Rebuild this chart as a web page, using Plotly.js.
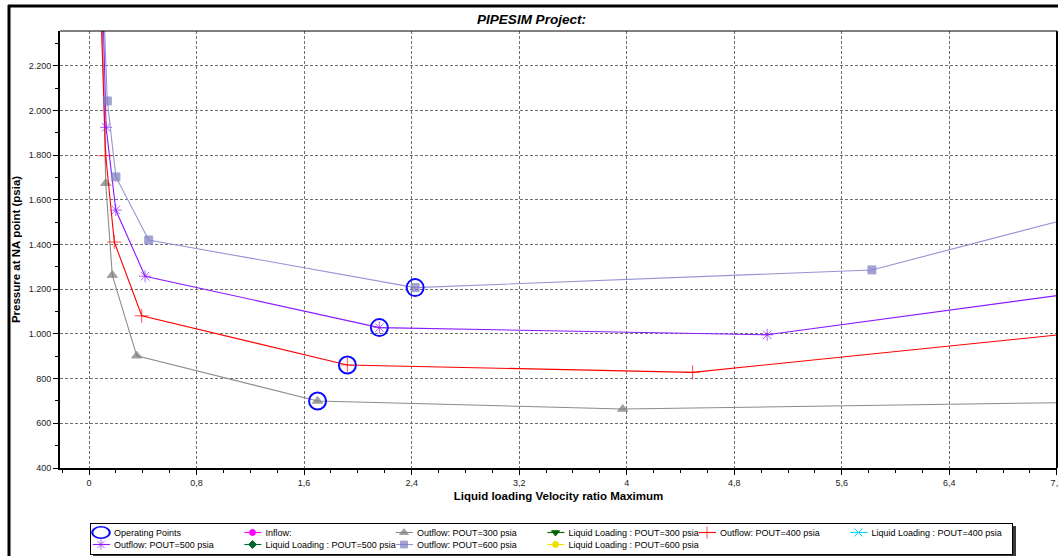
<!DOCTYPE html>
<html>
<head>
<meta charset="utf-8">
<script src="https://cdn.plot.ly/plotly-3.0.1.min.js"></script>
<style>
  html, body { margin: 0; padding: 0; background: #fff; }
  #chart { width: 1063px; height: 556px; }
  /* compact legend entries: short sample line, text close to the symbol, tight rows */
  #chart .legend .legendlines path { transform: translate(-1px, 0) scaleX(0.57); }
  #chart .legend .legendsymbols { transform: translate(-10px, 0); }
  #chart .legend .traces:first-child .legendsymbols { transform: translate(-12px, 0) scale(1.1, 0.72); }
  #chart .legend .traces:nth-child(-n+6) .legendtext { transform: translate(-17px, -6px); }
  #chart .legend .traces:nth-child(-n+6) .layers { transform: translate(0, -6px); }
  #chart .legend .traces:nth-child(n+7) .legendtext { transform: translate(-17px, -13px); }
  #chart .legend .traces:nth-child(n+7) .layers { transform: translate(0, -13px); }
  #chart .legend .bg { width: 922px; height: 31px; filter: drop-shadow(3px 3px 0 #3a3a3a); }
  #chart clipPath[id*="legend"] rect { width: 930px; }
</style>
</head>
<body>
<div id="chart"></div>
<script>
// Outflow curves: liquid loading velocity ratio (x) against pressure at the NA point (psia, y).
// The first point of each curve lies above the visible pressure range, the last one at the right edge.
const xOut300 = [0.096, 0.124, 0.173, 0.355, 1.70, 3.97, 7.2];
const pOut300 = [2450, 1674, 1263, 902, 700, 664, 692];

const xOut400 = [0.088, 0.124, 0.188, 0.392, 1.922, 4.49, 7.2];
const pOut400 = [2450, 1797, 1411, 1081, 861, 828, 995];

const xOut500 = [0.104, 0.127, 0.199, 0.417, 2.16, 5.045, 7.2];
const pOut500 = [2450, 1924, 1554, 1258, 1028, 996, 1171];

const xOut600 = [0.11, 0.136, 0.20, 0.444, 2.426, 5.824, 7.2];
const pOut600 = [2450, 2042, 1702, 1420, 1207, 1286, 1502];

// Operating points (intersection of each outflow curve with the system)
const xOper = [1.70, 1.922, 2.16, 2.426];
const pOper = [700, 861, 1028, 1207];

// Inflow and liquid-loading series carry no values inside the plotted range
const xInflow = [null], pInflow = [null];
const xLL300 = [null], pLL300 = [null];
const xLL400 = [null], pLL400 = [null];
const xLL500 = [null], pLL500 = [null];
const xLL600 = [null], pLL600 = [null];

// marker on every point except the curve end at the right border
function markerSizes(arr, size) {
  return arr.map((v, i) => (i === arr.length - 1 ? 0 : size));
}

function series(name, x, y, color, symbol, size, rank, markerColor) {
  return {
    type: 'scatter', mode: 'lines+markers', name: name,
    x: x, y: y, legendrank: rank,
    line: { color: color, width: 1.1 },
    marker: {
      color: markerColor || color, symbol: symbol, size: size,
      line: { color: markerColor || color, width: 1 }
    }
  };
}

const traces = [
  series('Inflow:', xInflow, pInflow, '#ff00ff', 'circle', 6, 2),
  series('Outflow: POUT=300 psia', xOut300, pOut300, '#8c8c8c', 'triangle-up', markerSizes(xOut300, 9), 3, '#7a7a7a'),
  series('Liquid Loading : POUT=300 psia', xLL300, pLL300, '#006400', 'triangle-down', 7, 4),
  series('Outflow: POUT=400 psia', xOut400, pOut400, '#ff0000', 'cross-thin-open', markerSizes(xOut400, 10), 5),
  series('Liquid Loading : POUT=400 psia', xLL400, pLL400, '#00dcff', 'x-thin-open', 8, 6),
  series('Outflow: POUT=500 psia', xOut500, pOut500, '#8a1aff', 'asterisk-open', markerSizes(xOut500, 10), 7),
  series('Liquid Loading : POUT=500 psia', xLL500, pLL500, '#006633', 'diamond', 6, 8),
  series('Outflow: POUT=600 psia', xOut600, pOut600, '#9494d4', 'square', markerSizes(xOut600, 8), 9, '#7c7cc0'),
  series('Liquid Loading : POUT=600 psia', xLL600, pLL600, '#f0e000', 'circle', 6, 10),
  {
    type: 'scatter', mode: 'markers', name: 'Operating Points',
    x: xOper, y: pOper, legendrank: 1,
    marker: { symbol: 'circle-open', size: 17, color: '#0a0aff', line: { color: '#0a0aff', width: 2 } }
  }
];

// geometry of the plot area in pixels, used to place frame shapes in paper units
const W = 1063, H = 556, L = 60, R = 6, T = 31, B = 88;
const pw = W - L - R, ph = H - T - B;
const px = v => (v - L) / pw;
const py = v => (H - B - v) / ph;

const gridStyle = { showgrid: true, gridcolor: '#6f6f6f', griddash: '3px,2px', gridwidth: 1 };
const axisLine = {
  zeroline: false, showline: true, linecolor: '#000', linewidth: 2,
  ticks: 'outside', ticklen: 5, tickcolor: '#000', tickwidth: 1,
  tickfont: { size: 9, color: '#222' }, automargin: false, ticklabeloverflow: 'allow'
};

const layout = {
  width: W, height: H,
  margin: { l: L, r: R, t: T, b: B, pad: 0, autoexpand: false },
  paper_bgcolor: '#ffffff', plot_bgcolor: '#ffffff',
  separators: ',.',
  font: { family: 'Liberation Sans, Arial, sans-serif', color: '#000' },
  title: {
    text: '<b><i>PIPESIM Project:</i></b>',
    font: { size: 13.5, color: '#000' },
    xref: 'container', x: 0.5, xanchor: 'center',
    yref: 'container', y: 1 - 19 / H, yanchor: 'middle'
  },
  xaxis: Object.assign({
    range: [-0.216, 7.201], tick0: 0, dtick: 0.8,
    minor: { dtick: 0.2, tick0: 0, ticks: 'outside', ticklen: 3, tickcolor: '#000', showgrid: false },
    title: { text: '<b>Liquid loading Velocity ratio Maximum</b>', font: { size: 11.5, color: '#000' }, standoff: 5 }
  }, gridStyle, axisLine),
  yaxis: Object.assign({
    range: [400, 2355], tick0: 0, dtick: 200, separatethousands: true,
    minor: { dtick: 100, tick0: 0, ticks: 'outside', ticklen: 3, tickcolor: '#000', showgrid: false },
    title: { text: '<b>Pressure at NA point (psia)</b>', font: { size: 11.5, color: '#000' }, standoff: 6 }
  }, gridStyle, axisLine),
  showlegend: true,
  legend: {
    orientation: 'h', traceorder: 'normal',
    x: px(90), xanchor: 'left', y: py(523), yanchor: 'top',
    bgcolor: '#ffffff', bordercolor: '#000', borderwidth: 1,
    font: { size: 9, color: '#000' },
    entrywidth: 106.5, entrywidthmode: 'pixels', itemwidth: 30
  },
  shapes: [
    // thin border on the top and right of the plot area
    { type: 'line', xref: 'paper', yref: 'paper', x0: 0, x1: 1, y0: 1, y1: 1, line: { color: '#000', width: 1 } },
    { type: 'line', xref: 'paper', yref: 'paper', x0: 1, x1: 1, y0: 0, y1: 1, line: { color: '#000', width: 2 } },
    // outer frame of the chart panel
    { type: 'line', xref: 'paper', yref: 'paper', x0: px(9), x1: px(9), y0: py(560), y1: py(5), line: { color: '#000', width: 3 } },
    { type: 'line', xref: 'paper', yref: 'paper', x0: px(8), x1: px(1058), y0: py(6), y1: py(6), line: { color: '#000', width: 3 } },
    // panel ends just past the plot's right border
    { type: 'rect', xref: 'paper', yref: 'paper', x0: px(1058.5), x1: px(1070), y0: py(560), y1: py(0),
      fillcolor: '#ffffff', line: { width: 0 }, layer: 'above' }
  ]
};

Plotly.newPlot('chart', traces, layout, { displayModeBar: false, staticPlot: true });
</script>
</body>
</html>
